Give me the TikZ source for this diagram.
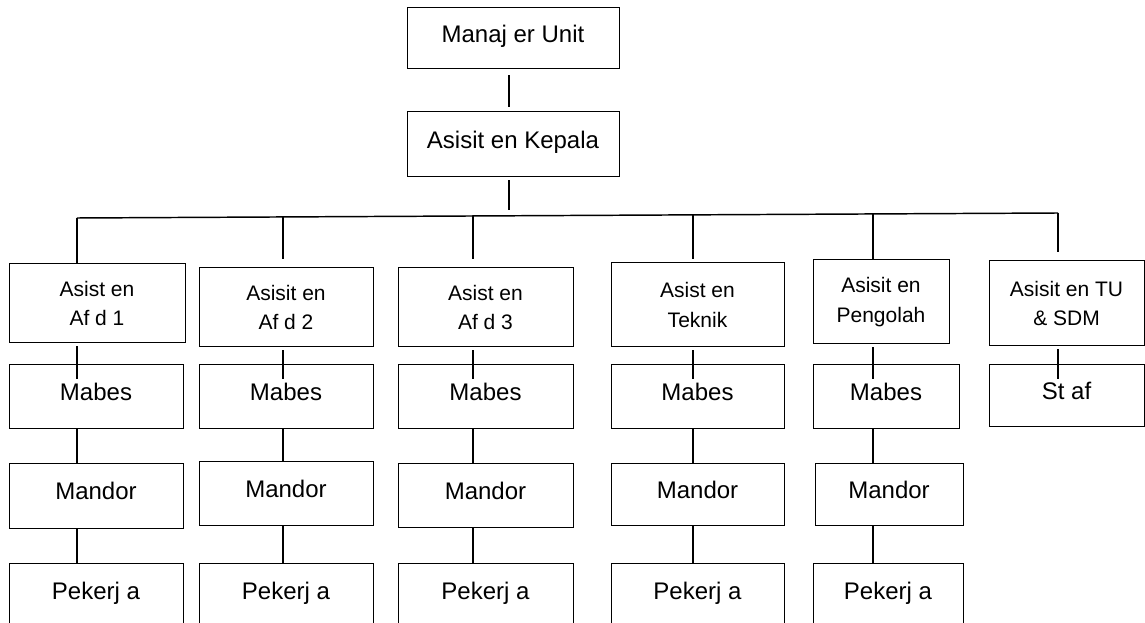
\documentclass[tikz,border=0pt]{standalone}
\usepackage{fontspec}
\setmainfont{Liberation Sans}

\begin{document}
\begin{tikzpicture}
[-,line width=1.1pt,%
  x=0.75pt,y=-0.75pt,%
  every node/.style={shape=rectangle,draw,line width=0.75pt,inner sep=0pt},%
  box/.style={font=\fontsize{18}{22}\selectfont,text height=13.5pt,text depth=7.5pt},%
  asisten/.style={align=center,font=\fontsize{15.75}{22}\selectfont}]
\useasboundingbox (0,0) rectangle (1145,623);
\node[box,minimum width=159pt,minimum height=45.75pt] (mu) at (513,38.5) {Manaj er Unit};
\node[box,minimum width=159pt,minimum height=48.75pt] (mk) at (513,144.5) {Asisit en Kepala};
%%
\coordinate (k) at (509,216);
\coordinate (d1) at (77,218);
\coordinate (d2) at (283,216.9);
\coordinate (d3) at (473,216);
\coordinate (d4) at (693,214.9);
\coordinate (d5) at (873,213.9);
\coordinate (d6) at (1058,213);
%%
\node[asisten,minimum width=132pt,minimum height=59.25pt] (a1) at (97,303.5) {Asist en\\Af d 1};
\node[asisten,minimum width=130.5pt,minimum height=59.25pt] (a2) at (286,307.5) {Asisit en\\Af d 2};
\node[asisten,minimum width=131.25pt,minimum height=59.25pt] (a3) at (485.5,307.5) {Asist en\\Af d 3};
\node[asisten,minimum width=129.75pt,minimum height=63pt] (a4) at (697.5,305) {Asist en\\Teknik};
\node[asisten,minimum width=102pt,minimum height=63pt] (a5) at (881,302) {Asisit en\\Pengolah};
\node[asisten,minimum width=116.25pt,minimum height=63.75pt] (a6) at (1066.5,303.5) {Asisit en TU\\\& SDM};
%%
\node[box,minimum width=130.5pt,minimum height=48pt] (b1) at (96,396) {Mabes};
\node[box,minimum width=130.5pt,minimum height=48pt] (b2) at (286,396) {Mabes};
\node[box,minimum width=131.25pt,minimum height=48pt] (b3) at (485.5,396) {Mabes};
\node[box,minimum width=129.75pt,minimum height=48pt] (b4) at (697.5,396) {Mabes};
\node[box,minimum width=109.5pt,minimum height=48pt] (b5) at (886,396) {Mabes};
\node[box,minimum width=116.25pt,minimum height=46.5pt] (b6) at (1066.5,395) {St af};
%%
\node[box,minimum width=130.5pt,minimum height=48.75pt] (c1) at (96,495.5) {Mandor};
\node[box,minimum width=130.5pt,minimum height=48pt] (c2) at (286,493) {Mandor};
\node[box,minimum width=131.25pt,minimum height=48pt] (c3) at (485.5,495) {Mandor};
\node[box,minimum width=129.75pt,minimum height=46.5pt] (c4) at (697.5,494) {Mandor};
\node[box,minimum width=111pt,minimum height=46.5pt] (c5) at (889,494) {Mandor};
%%
\node[box,minimum width=130.5pt,minimum height=48.75pt] (p1) at (96,595.5) {Pekerj a};
\node[box,minimum width=130.5pt,minimum height=48.75pt] (p2) at (286,595.5) {Pekerj a};
\node[box,minimum width=131.25pt,minimum height=48.75pt] (p3) at (485.5,595.5) {Pekerj a};
\node[box,minimum width=129.75pt,minimum height=48.75pt] (p4) at (697.5,595.5) {Pekerj a};
\node[box,minimum width=112.5pt,minimum height=48.75pt] (p5) at (888,595.5) {Pekerj a};
%%
\draw[shorten <=4.5pt,shorten >=3pt] (mu.south -| k) -- (mk.north -| k);
\draw[shorten <=2.25pt,shorten >=4.5pt] (mk.south -| k) -- (k);
\draw (d1) -- (d6);
\foreach \n/\gap in {1/0,2/6,3/6,4/2.25,5/0,6/6}
{
  \draw[shorten >=\gap pt] (d\n) -- (d\n |- a\n.north);
  \draw[shorten <=2.25pt,shorten >=-11.25pt] (d\n |- a\n.south) -- (d\n |- b\n.north);
};
\foreach \n in {1,...,5}
{
  \draw (d\n |- b\n.south) -- (d\n |- c\n.north);
  \draw (d\n |- c\n.south) -- (d\n |- p\n.north);
};
\end{tikzpicture}
\end{document}
